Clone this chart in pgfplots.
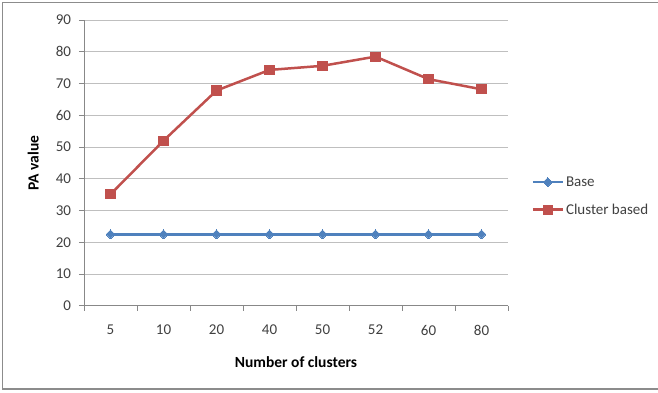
\documentclass[border=0pt]{standalone}
\usepackage{pgfplots}
\pgfplotsset{compat=1.18}
\usepackage{fontspec}
\setmainfont{Carlito}

\definecolor{baseblue}{HTML}{4F81BD}
\definecolor{clusterred}{HTML}{C0504D}
\definecolor{gridgray}{HTML}{BFBFBF}
\definecolor{axisgray}{HTML}{888888}
\definecolor{labelgray}{HTML}{404040}
\definecolor{framegray}{HTML}{8C8C8C}

\begin{document}
\begin{tikzpicture}[x=1pt,y=1pt]
\useasboundingbox (-84,-86.3) rectangle (574,305.7);
% chart frame
\draw[framegray, line width=1.5pt] (580,303.2) -- (-81.5,303.2) -- (-81.5,-83.3) -- (580,-83.3);
\begin{axis}[
  at={(0,0)}, anchor=south west,
  scale only axis, width=424pt, height=285.6pt,
  xmin=-0.5, xmax=7.5, ymin=0, ymax=90,
  xtick={0,...,7},
  xticklabels={5,10,20,40,50,52,60,80},
  major x tick style={draw=none},
  minor xtick={-0.5,0.5,...,7.5},
  minor x tick style={axisgray, line width=0.8pt},
  minor tick length=5pt,
  ytick={0,10,...,90},
  major y tick style={axisgray, line width=0.8pt},
  major tick length=5pt,
  tick align=outside,
  tick pos=left,
  ymajorgrids,
  grid style={gridgray, line width=0.9pt},
  axis line style={axisgray, line width=0.8pt},
  axis x line*=bottom, axis y line*=left,
  /pgf/number format/assume math mode=true,
  ticklabel style={font=\fontsize{15}{17}\selectfont, text=labelgray},
  xticklabel style={yshift=-11pt},
  yticklabel style={xshift=-4.5pt},
  xlabel={\textbf{Number of clusters}},
  ylabel={\textbf{PA value}},
  label style={font=\fontsize{15.5}{18}\selectfont},
  xlabel style={at={(axis description cs:0.5,-0.196)}, anchor=center},
  ylabel style={at={(axis description cs:-0.12,0.5)}, anchor=center, rotate=0},
  legend style={at={(axis description cs:1.055,0.46)}, anchor=north west,
    draw=none, fill=none, font=\fontsize{15}{17}\selectfont, text=labelgray,
    row sep=12pt, inner sep=0pt},
  legend cell align=left,
  legend image code/.code={
    \draw[#1, mark repeat=2, mark phase=2] plot coordinates {(0pt,0pt) (15pt,0pt) (30pt,0pt)};
  },
  clip=false,
]
\addplot[baseblue, line width=2.5pt, mark=square*, mark size=3.1pt,
  mark options={rotate=45, solid, fill=baseblue, line width=0pt}]
  coordinates {(0,22.5) (1,22.5) (2,22.5) (3,22.5) (4,22.5) (5,22.5) (6,22.5) (7,22.5)};
\addlegendentry{Base}
\addplot[clusterred, line width=2.5pt, mark=square*, mark size=4.6pt,
  mark options={solid, fill=clusterred, line width=0pt}]
  coordinates {(0,35.1) (1,52.0) (2,67.8) (3,74.3) (4,75.6) (5,78.5) (6,71.4) (7,68.2)};
\addlegendentry{Cluster based}
\end{axis}
\end{tikzpicture}
\end{document}
